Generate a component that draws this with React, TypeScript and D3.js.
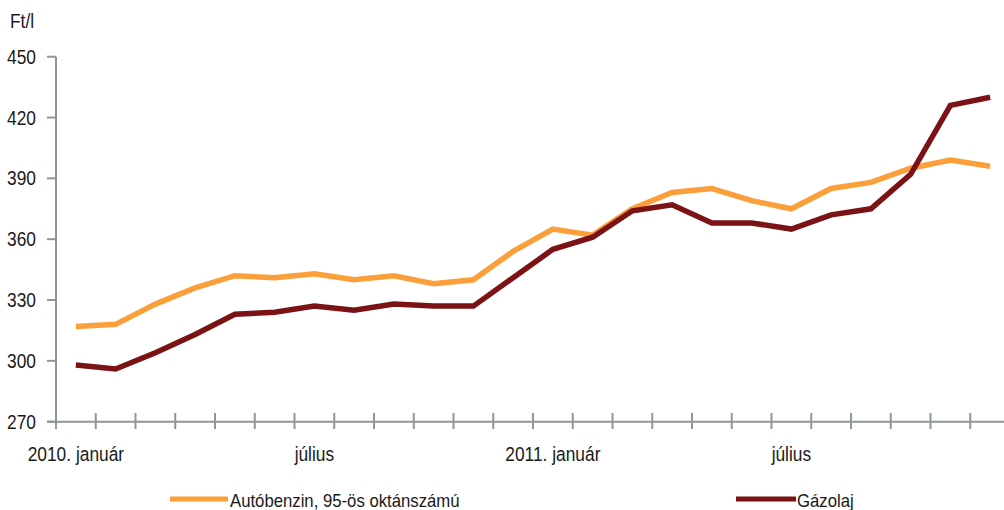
import React from 'react';
import * as d3 from 'd3';

const months = [
  '2010-01', '2010-02', '2010-03', '2010-04', '2010-05', '2010-06',
  '2010-07', '2010-08', '2010-09', '2010-10', '2010-11', '2010-12',
  '2011-01', '2011-02', '2011-03', '2011-04', '2011-05', '2011-06',
  '2011-07', '2011-08', '2011-09', '2011-10', '2011-11', '2011-12',
];
const benzin = [317, 318, 328, 336, 342, 341, 343, 340, 342, 338, 340, 354, 365, 362, 375, 383, 385, 379, 375, 385, 388, 395, 399, 396];
const gazolaj = [298, 296, 304, 313, 323, 324, 327, 325, 328, 327, 327, 341, 355, 361, 374, 377, 368, 368, 365, 372, 375, 392, 426, 430];
const yTicks = [270, 300, 330, 360, 390, 420, 450];
const labelMonths = ['2010-01', '2010-07', '2011-01', '2011-07'];
const labelTexts = ['2010. január', 'július', '2011. január', 'július'];
const seriesNames = ['Autóbenzin, 95-ös oktánszámú', 'Gázolaj'];

const W = 1004;
const H = 510;
const AXIS = '#8e9698';
const TEXT = '#1a1a1a';
const colors = ['#fa9f3a', '#7b1316'];
const FONT = '"Liberation Sans", Arial, sans-serif';
const SX = 0.89; // the original type is a bit condensed

const Label = ({ x, y, anchor = 'start', size = 19.5, children }: any) => (
  <text
    transform={`translate(${x},${y}) scale(${SX},1)`}
    textAnchor={anchor}
    fontFamily={FONT}
    fontSize={size}
    fill={TEXT}
  >
    {children}
  </text>
);

export default function App() {
  const x = d3.scaleBand().domain(months).range([56, 56 + 24 * 39.75]);
  const y = d3.scaleLinear().domain([270, 450]).range([421.7, 56.7]);
  const cx = (m: string) => (x(m) as number) + x.bandwidth() / 2;

  const line = d3.line<number>()
    .x((_, i) => cx(months[i]))
    .y(d => y(d));

  const bounds = months.map(m => x(m) as number).concat([x.range()[1]]);

  return (
    <svg width={W} height={H} style={{ position: 'absolute', left: 0, top: 0, display: 'block' }}>
      <rect width={W} height={H} fill="#fff" />

      <Label x={10} y={28}>Ft/l</Label>

      {/* y axis */}
      <line x1={56} x2={56} y1={y(450)} y2={429} stroke={AXIS} strokeWidth={2} />
      {yTicks.map(t => (
        <g key={t}>
          <line x1={47} x2={56} y1={y(t)} y2={y(t)} stroke={AXIS} strokeWidth={2} />
          <Label x={36} y={y(t) + 7} anchor="end">{t}</Label>
        </g>
      ))}

      {/* x axis */}
      <line x1={47} x2={W} y1={y(270)} y2={y(270)} stroke={AXIS} strokeWidth={2} />
      {bounds.map((b, i) => (
        <line key={i} x1={b} x2={b} y1={413} y2={429} stroke={AXIS} strokeWidth={2} />
      ))}
      {labelMonths.map((m, i) => (
        <Label key={m} x={cx(m)} y={461} anchor="middle">{labelTexts[i]}</Label>
      ))}

      {/* series */}
      {[benzin, gazolaj].map((s, i) => (
        <path key={i} d={line(s) as string} fill="none" stroke={colors[i]} strokeWidth={5.5} strokeLinejoin="miter" />
      ))}

      {/* legend */}
      <line x1={170} x2={228} y1={499} y2={499} stroke={colors[0]} strokeWidth={5} />
      <Label x={230} y={507} size={18.8}>{seriesNames[0]}</Label>
      <line x1={736} x2={796} y1={499} y2={499} stroke={colors[1]} strokeWidth={5} />
      <Label x={797} y={507} size={18.8}>{seriesNames[1]}</Label>
    </svg>
  );
}
